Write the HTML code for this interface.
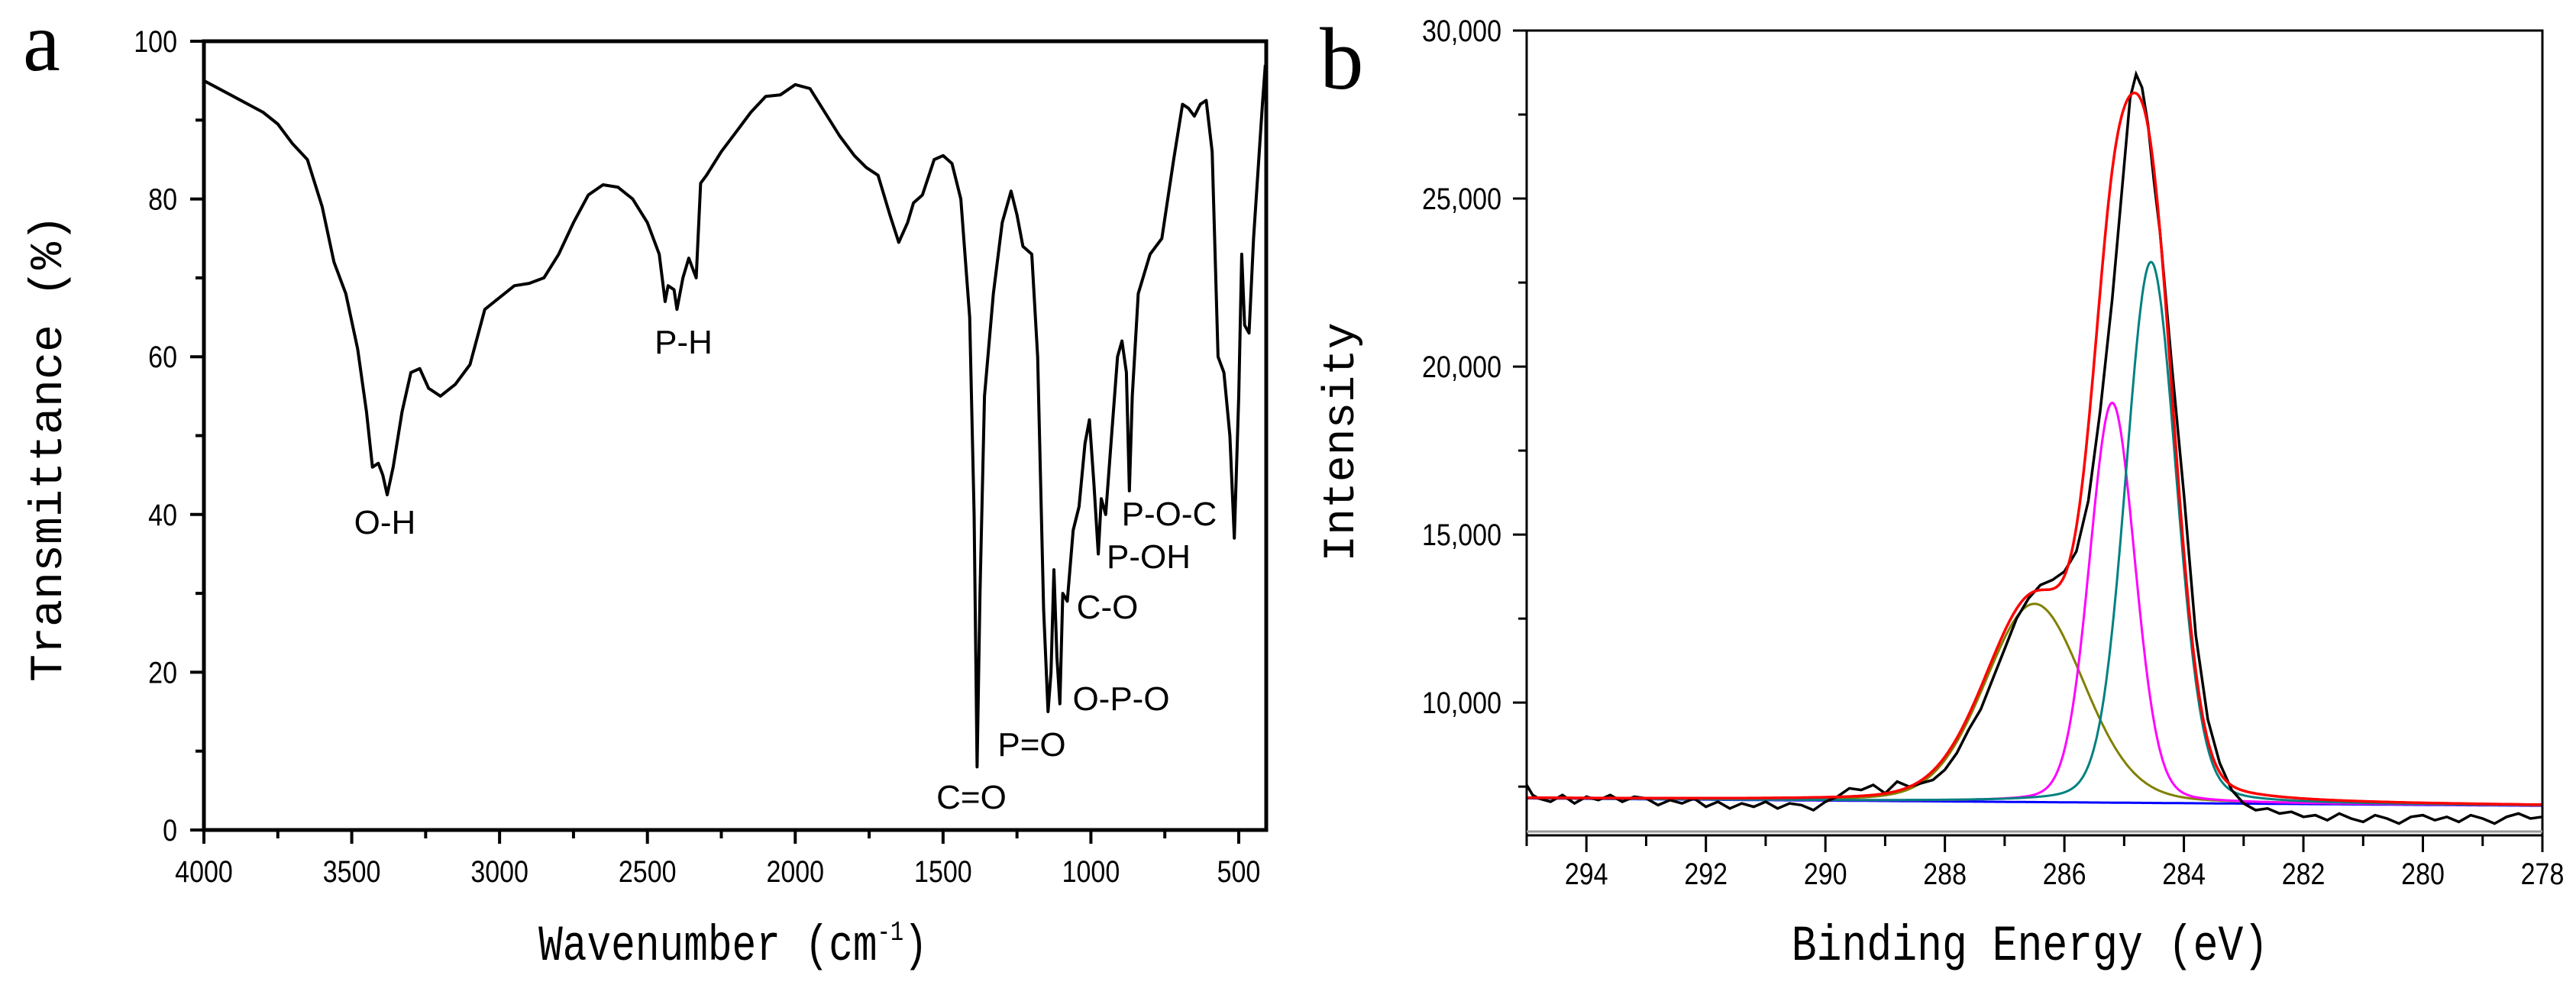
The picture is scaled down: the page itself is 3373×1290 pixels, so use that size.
<!DOCTYPE html>
<html><head><meta charset="utf-8"><style>
html,body{margin:0;padding:0;background:#fff}
svg{display:block}
.tk{font-family:"Liberation Sans",sans-serif;font-size:40px;fill:#000}
.ttl{font-family:"Liberation Mono",monospace;fill:#000}
.ann{font-family:"Liberation Sans",sans-serif;font-size:44px;fill:#000}
</style></head><body>
<svg id="fig" width="3373" height="1290" viewBox="0 0 3373 1290" xmlns="http://www.w3.org/2000/svg">
<g id="pa"></g>
<g id="pb"></g>
</svg>
<script>
// ---- FTIR data (panel a)
const ftirWave=[4000,3900,3800,3750,3700,3650,3600,3560,3520,3480,3450,3430,3410,3395,3380,3360,3330,3300,3270,3240,3200,3150,3100,3050,3000,2950,2900,2850,2800,2750,2700,2650,2600,2550,2500,2460,2440,2430,2410,2400,2380,2360,2345,2335,2320,2300,2250,2200,2150,2100,2050,2000,1950,1900,1850,1800,1760,1720,1680,1650,1620,1600,1570,1530,1500,1470,1440,1410,1395,1385,1375,1360,1330,1300,1270,1250,1230,1200,1180,1160,1145,1135,1125,1115,1105,1095,1080,1060,1040,1020,1005,990,975,965,950,930,910,895,880,870,860,840,800,760,720,690,670,650,630,610,590,570,550,530,515,500,490,480,465,450,420,410];
const ftirT=[95,93,91,89.5,87,85,79,72,68,61,53,46,46.5,45,42.5,46,53,58,58.5,56,55,56.5,59,66,67.5,69,69.3,70,73,77,80.5,81.8,81.5,80,77,73,67,69,68.5,66,70,72.5,71,70,82,83,86,88.5,91,93,93.2,94.5,94,91,88,85.5,84,83,78,74.5,77,79.5,80.5,85,85.5,84.5,80,65,40,8,30,55,68,77,81,78,74,73,60,28,15,20,33,22,16,30,29,38,41,49,52,44,35,42,40,50,60,62,58,43,55,68,73,75,85,92,91.5,90.5,92,92.5,86,60,58,50,37,55,73,64,63,75,92,97];
const ftirXTicks=[4000,3500,3000,2500,2000,1500,1000,500];
const ftirYTicks=[0,20,40,60,80,100];
const ftirLabels=["O-H","P-H","C=O","P=O","O-P-O","C-O","P-OH","P-O-C"];
// ---- XPS data (panel b)
const xpsE=[295,294.9,294.8,294.6,294.4,294.2,294,293.8,293.6,293.4,293.2,293,292.8,292.6,292.4,292.2,292,291.8,291.6,291.4,291.2,291,290.8,290.6,290.4,290.2,290,289.8,289.6,289.4,289.2,289,288.8,288.6,288.4,288.2,288,287.8,287.6,287.4,287.2,287,286.8,286.6,286.4,286.2,286,285.8,285.6,285.4,285.2,285,284.9,284.8,284.7,284.6,284.5,284.4,284.2,284,283.8,283.6,283.4,283.2,283,282.8,282.6,282.4,282.2,282,281.8,281.6,281.4,281.2,281,280.8,280.6,280.4,280.2,280,279.8,279.6,279.4,279.2,279,278.8,278.6,278.4,278.2,278];
const xpsI=[7550,7250,7150,7050,7250,7000,7200,7100,7250,7050,7200,7150,6950,7100,7000,7150,6900,7050,6850,7000,6900,7050,6850,7000,6950,6800,7050,7200,7450,7400,7550,7300,7650,7500,7600,7700,8000,8500,9200,9800,10700,11600,12500,13100,13500,13650,13900,14500,16000,18700,22000,26000,28000,28700,28300,27200,25500,24000,20000,16200,12000,9500,8200,7400,7000,6800,6850,6700,6750,6600,6650,6500,6700,6550,6450,6650,6550,6400,6600,6650,6500,6600,6450,6650,6550,6400,6600,6700,6550,6600];
const peakCenters=[286.5,285.2,284.55];
const peakHeights=[5900,11900,16100];
const peakFwhm=[1.95,0.9,1.0];
const baseEnds=[7150,6930];
const xpsXTicks=[294,292,290,288,286,284,282,280,278];
const xpsYTicks=[10000,15000,20000,25000,30000];

const NS="http://www.w3.org/2000/svg";
function mk(parent,tag,attrs){const e=document.createElementNS(NS,tag);for(const k in attrs)e.setAttribute(k,attrs[k]);parent.appendChild(e);return e;}

// ===== Panel a
(function(){
const g=document.getElementById('pa');
const L=267,R=1658,T=54,B=1087;
const x=w=>L+(4000-w)/(4000-407)*(R-L);
const y=v=>B-v/100*(B-T);
let d=ftirWave.map((w,i)=>(i?'L':'M')+x(w).toFixed(1)+','+y(ftirT[i]).toFixed(1)).join('');
const line=mk(g,'path',{d:d,fill:'none',stroke:'#000','stroke-width':4,'stroke-linejoin':'round'});


const fr=mk(g,'rect',{x:L,y:T,width:R-L,height:B-T,fill:'none',stroke:'#000','stroke-width':5});


for(let w=4000;w>=500;w-=250){const X=x(w);const maj=w%500===0;mk(g,'line',{x1:X,y1:B,x2:X,y2:B+(maj?18:11),stroke:'#000','stroke-width':4});}
ftirXTicks.forEach(w=>{const t=mk(g,'text',{x:x(w),y:1155,'text-anchor':'middle',class:'tk',transform:`translate(${x(w)},0) scale(0.85,1) translate(${-x(w)},0)`});t.textContent=w;

});
for(let v=0;v<=100;v+=10){const Y=y(v);const maj=v%20===0;mk(g,'line',{x1:L,y1:Y,x2:L-(maj?18:11),y2:Y,stroke:'#000','stroke-width':4});}
ftirYTicks.forEach(v=>{const t=mk(g,'text',{x:232,y:y(v)+14,'text-anchor':'end',class:'tk',transform:`translate(232,0) scale(0.85,1) translate(-232,0)`});t.textContent=v;

});
const pos=[[504,699],[895,463],[1272,1059],[1351,990],[1468,930],[1450,810],[1504,744],[1531,688]];
ftirLabels.forEach((s,i)=>{const t=mk(g,'text',{x:pos[i][0],y:pos[i][1],'text-anchor':'middle',class:'ann'});t.textContent=s;

});
const xt=mk(g,'text',{x:960,y:1257,'text-anchor':'middle',class:'ttl','font-size':66,transform:'translate(960,0) scale(0.8,1) translate(-960,0)'});
xt.innerHTML='Wavenumber (cm<tspan dy="-26" font-size="36">-1</tspan><tspan dy="26">)</tspan>';


const yt=mk(g,'text',{x:0,y:0,'text-anchor':'middle',class:'ttl','font-size':60,transform:'translate(80,587) rotate(-90)'});
yt.textContent='Transmittance (%)';


const pl=mk(g,'text',{x:30,y:92,'font-family':'Liberation Serif,serif','font-size':110});pl.textContent='a';


})();

// ===== Panel b
(function(){
const g=document.getElementById('pb');
const L=1999,R=3329,T=40,B=1094,YMIN=6050,YMAX=30000;
const x=e=>L+(295-e)/17*(R-L);
const y=v=>B-(v-YMIN)/(YMAX-YMIN)*(B-T);
const base=e=>baseEnds[0]+(295-e)/17*(baseEnds[1]-baseEnds[0]);
function comp(i,e){const s=peakFwhm[i]/2.3548,dx=e-peakCenters[i];const gs=Math.exp(-dx*dx/(2*s*s));const lz=1/(1+Math.pow(2*dx/peakFwhm[i],2));return peakHeights[i]*(0.85*gs+0.15*lz);}
const es=[];for(let e=295;e>=278-1e-9;e-=0.02)es.push(e);
const path=(f)=>es.map((e,i)=>(i?'L':'M')+x(e).toFixed(1)+','+y(f(e)).toFixed(1)).join('');
const bl=mk(g,'path',{d:path(base),fill:'none',stroke:'#0000ff','stroke-width':3});


const cols=['#808000','#ff00ff','#008080'];
const names=['component-peak-1','component-peak-2','component-peak-3'];
cols.forEach((c,i)=>{const p=mk(g,'path',{d:path(e=>base(e)+comp(i,e)),fill:'none',stroke:c,'stroke-width':3});

});
const raw=mk(g,'path',{d:xpsE.map((e,i)=>(i?'L':'M')+x(e).toFixed(1)+','+y(xpsI[i]).toFixed(1)).join(''),fill:'none',stroke:'#000','stroke-width':3.5});


const fit=mk(g,'path',{d:path(e=>base(e)+comp(0,e)+comp(1,e)+comp(2,e)),fill:'none',stroke:'#ff0000','stroke-width':3.5});


const fr=mk(g,'rect',{x:L,y:T,width:R-L,height:B-T,fill:'none',stroke:'#000','stroke-width':3});


mk(g,'line',{x1:L,y1:B-5,x2:R,y2:B-5,stroke:'#999','stroke-width':3});
for(let e=295;e>=278;e-=1){const X=x(e);const maj=e%2===0;mk(g,'line',{x1:X,y1:B,x2:X,y2:B+(maj?22:14),stroke:'#000','stroke-width':3});}
xpsXTicks.forEach(e=>{const t=mk(g,'text',{x:x(e),y:1158,'text-anchor':'middle',class:'tk',transform:`translate(${x(e)},0) scale(0.85,1) translate(${-x(e)},0)`});t.textContent=e;

});
for(let v=7500;v<=30000;v+=2500){const Y=y(v);const maj=v%5000===0;mk(g,'line',{x1:L,y1:Y,x2:L-(maj?18:11),y2:Y,stroke:'#000','stroke-width':3});}
xpsYTicks.forEach(v=>{const t=mk(g,'text',{x:1966,y:y(v)+14,'text-anchor':'end',class:'tk',transform:'translate(1966,0) scale(0.85,1) translate(-1966,0)'});t.textContent=v.toLocaleString('en-US');

});
const xt=mk(g,'text',{x:2658,y:1257,'text-anchor':'middle',class:'ttl','font-size':66,transform:'translate(2658,0) scale(0.83,1) translate(-2658,0)'});
xt.textContent='Binding Energy (eV)';


const yt=mk(g,'text',{x:0,y:0,'text-anchor':'middle',class:'ttl','font-size':58,transform:'translate(1772,579) rotate(-90)'});
yt.textContent='Intensity';


const pl=mk(g,'text',{x:1728,y:116,'font-family':'Liberation Serif,serif','font-size':115});pl.textContent='b';


})();
</script>
</body></html>
